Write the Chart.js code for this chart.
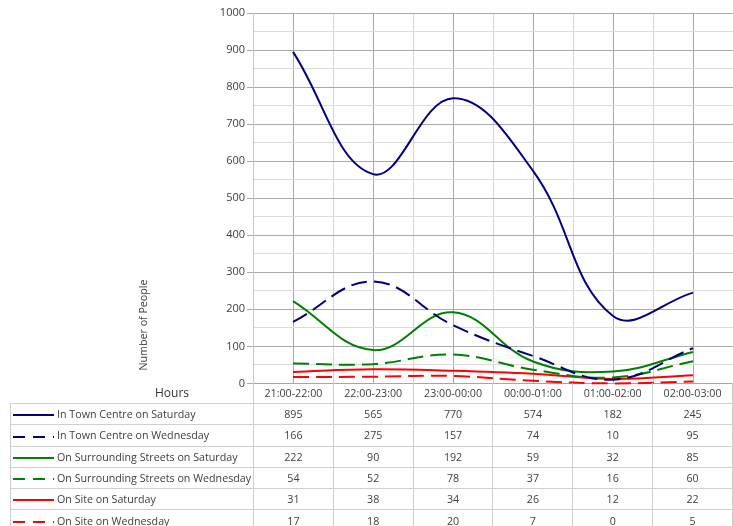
<!DOCTYPE html>
<html>
<head>
<meta charset="utf-8">
<script src="https://cdn.jsdelivr.net/npm/chart.js@4"></script>
<style>
    html, body { margin: 0; padding: 0; background: #fff; overflow: hidden; }
    body { width: 733px; height: 526px; position: relative; font-family: "Open Sans", "Noto Sans", sans-serif; color: #404040; }
    #wrap { position: absolute; left: 0; top: 0; width: 733px; height: 392px; }
    #yTitle { position: absolute; left: 143px; top: 325px; transform: translate(-50%, -50%) rotate(-90deg); font-size: 10.7px; white-space: nowrap; }
    #hoursLbl { position: absolute; left: 155px; top: 383px; height: 21px; line-height: 19px; font-size: 12px; color: #333; }
    #dataTable { position: absolute; left: 10px; top: 383px; border-collapse: collapse; table-layout: fixed; font-size: 10.7px; }
    #dataTable td { border: 1px solid #cfcfcf; height: 20.3px; padding: 0; text-align: center; white-space: nowrap; overflow: hidden; }
    #dataTable tr.head td { height: 20px; border-top: none; }
    #dataTable tr.head td.blank { border: none; border-bottom: 1px solid #cfcfcf; }
    #dataTable td.name { text-align: left; padding-left: 2px; }
    #dataTable td.name svg { vertical-align: middle; margin-right: 2px; }
</style>
</head>
<body>
<div id="wrap"><canvas id="chart"></canvas></div>
<div id="yTitle">Number of People</div>
<div id="hoursLbl">Hours</div>
<table id="dataTable"></table>

<script>
// DATA
const hours = ['21:00-22:00', '22:00-23:00', '23:00-00:00', '00:00-01:00', '01:00-02:00', '02:00-03:00'];
const townSat = [895, 565, 770, 574, 182, 245];
const townWed = [166, 275, 157, 74, 10, 95];
const streetsSat = [222, 90, 192, 59, 32, 85];
const streetsWed = [54, 52, 78, 37, 16, 60];
const siteSat = [31, 38, 34, 26, 12, 22];
const siteWed = [17, 18, 20, 7, 0, 5];

const series = [
    { name: 'In Town Centre on Saturday', data: townSat, color: '#000080', dashed: false },
    { name: 'In Town Centre on Wednesday', data: townWed, color: '#000080', dashed: true },
    { name: 'On Surrounding Streets on Saturday', data: streetsSat, color: '#008000', dashed: false },
    { name: 'On Surrounding Streets on Wednesday', data: streetsWed, color: '#008000', dashed: true },
    { name: 'On Site on Saturday', data: siteSat, color: '#ff0000', dashed: false },
    { name: 'On Site on Wednesday', data: siteWed, color: '#ff0000', dashed: true }
];

document.addEventListener('DOMContentLoaded', () => {
    // 1. Line chart
    const canvas = document.getElementById('chart');
    canvas.width = 733;
    canvas.height = 392;
    canvas.style.width = '733px';
    canvas.style.height = '392px';

    new Chart(canvas.getContext('2d'), {
        type: 'line',
        data: {
            labels: hours,
            datasets: series.map(s => ({
                label: s.name,
                data: s.data,
                borderColor: s.color,
                borderWidth: 2,
                borderDash: s.dashed ? [16, 7] : [],
                tension: 0.4,
                pointRadius: 0,
                fill: false,
                clip: false
            }))
        },
        options: {
            responsive: false,
            animation: false,
            layout: { padding: { top: 13, right: 0, bottom: 7, left: 0 } },
            plugins: { legend: { display: false }, tooltip: { enabled: false } },
            scales: {
                x: {
                    type: 'category',
                    offset: true,
                    grid: { offset: true, color: '#d4d4d4', drawTicks: false },
                    border: { color: '#a6a6a6' },
                    ticks: { display: false },
                    afterFit: (scale) => { scale.height = 0; }
                },
                x2: {
                    type: 'category',
                    labels: hours,
                    position: 'bottom',
                    offset: true,
                    grid: { offset: false, color: '#a9a9a9', drawTicks: false },
                    border: { display: false },
                    ticks: { display: false },
                    afterFit: (scale) => { scale.height = 0; }
                },
                y: {
                    min: 0,
                    max: 1000,
                    ticks: {
                        stepSize: 50,
                        padding: 2,
                        color: '#404040',
                        font: { family: '"Open Sans", "Noto Sans", sans-serif', size: 11 },
                        callback: (v) => (v % 100 === 0 ? v : '')
                    },
                    grid: {
                        color: (ctx) => (ctx.tick && ctx.tick.value % 100 === 0 ? '#a9a9a9' : '#dcdcdc'),
                        tickColor: (ctx) => (ctx.tick && ctx.tick.value % 100 === 0 ? '#a9a9a9' : 'rgba(0,0,0,0)'),
                        tickLength: 6
                    },
                    border: { color: '#c8c8c8' },
                    afterFit: (scale) => { scale.width = 253; }
                }
            }
        }
    });

    // 2. Data table under the chart
    const table = document.getElementById('dataTable');
    let html = '<colgroup><col style="width:243px">' + hours.map(() => '<col style="width:80px">').join('') + '</colgroup>';
    html += '<tr class="head"><td class="blank"></td>' + hours.map(h => `<td>${h}</td>`).join('') + '</tr>';
    html += series.map(s => {
        const dash = s.dashed ? 'stroke-dasharray="12,8"' : '';
        const key = `<svg width="42" height="4"><line x1="0" y1="2" x2="41" y2="2" stroke="${s.color}" stroke-width="2" ${dash}/></svg>`;
        return `<tr><td class="name">${key}${s.name}</td>` + s.data.map(v => `<td>${v}</td>`).join('') + '</tr>';
    }).join('');
    table.innerHTML = html;
});
</script>
</body>
</html>
